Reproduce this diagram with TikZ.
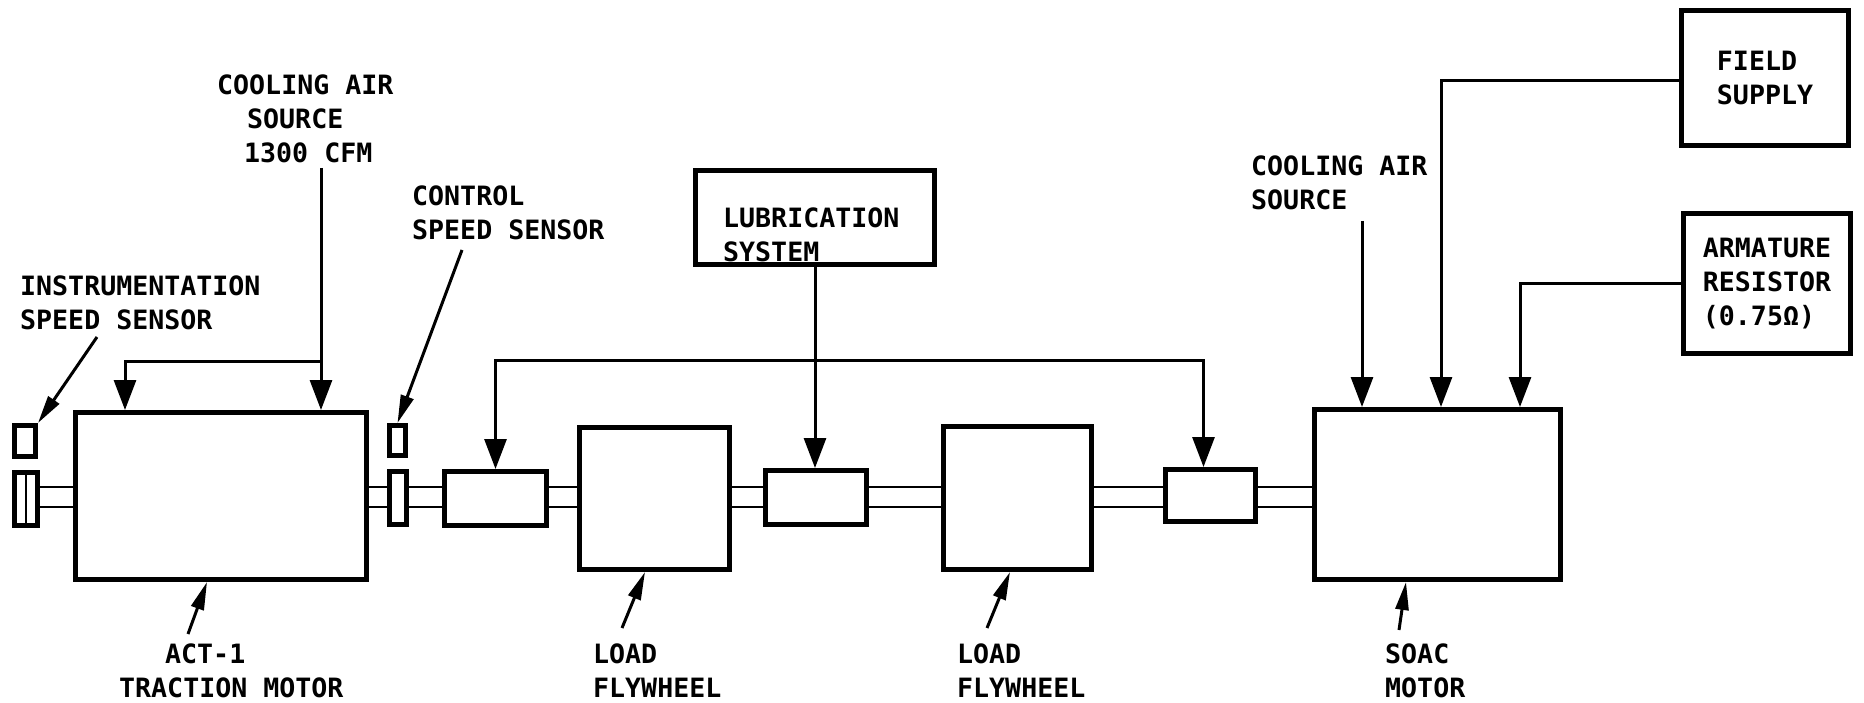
\documentclass[tikz,border=0pt]{standalone}
\usepackage{fontspec}
\newfontfamily\dmono{DejaVu Sans Mono}
\usetikzlibrary{arrows.meta}
\newcommand\lblfont{\dmono\bfseries\fontsize{26.6pt}{34pt}\selectfont}
\begin{document}
\begin{tikzpicture}[x=1pt,y=-1pt,
  box/.style={draw, line width=5pt, inner sep=0pt, align=left, font=\lblfont},
  lbl/.style={anchor=north west, inner sep=0pt, align=left, font=\lblfont},
  conn/.style={line width=3pt},
  arrb/.style={-{Triangle[width=22pt,length=30pt]}},
  arrbb/.style={{Triangle[width=22pt,length=30pt]}-{Triangle[width=22pt,length=30pt]}},
  lead/.style={line width=3pt, -{Triangle[width=13pt,length=28pt]}},
  shaft/.style={line width=2pt}]
\useasboundingbox (0,0) rectangle (1864,703);

% boxes
\node[box, minimum width=21, minimum height=31] (isens) at (25,441) {};
\node[box, minimum width=23, minimum height=53] (icoup) at (26,499) {};
\node[box, minimum width=291, minimum height=167] (motor) at (221,496) {};
\node[box, minimum width=16, minimum height=30] (csens) at (397.5,440.5) {};
\node[box, minimum width=17, minimum height=53] (ccoup) at (398,498) {};
\node[box, minimum width=102, minimum height=54] (boxA) at (495.5,498.5) {};
\node[box, minimum width=150, minimum height=142] (fw1) at (654.5,498.5) {};
\node[box, minimum width=101, minimum height=54] (boxB) at (816,497.5) {};
\node[box, minimum width=148, minimum height=143] (fw2) at (1017.5,498) {};
\node[box, minimum width=90, minimum height=52] (boxC) at (1210.5,495.5) {};
\node[box, minimum width=246, minimum height=170] (soac) at (1437.5,494.5) {};
\node[box, minimum width=239, minimum height=94] (lub) at (815,217.5) {};
\node[box, minimum width=167, minimum height=135] (field) at (1765,78) {FIELD\\SUPPLY};
\node[box, minimum width=167, minimum height=140] (arm) at (1767,283.5) {ARMATURE\\RESISTOR\\(0.75Ω)};

\draw[shaft] (icoup.north) -- (icoup.south);

% shafts
\foreach \a/\b in {icoup/motor, motor/ccoup, ccoup/boxA, boxA/fw1, fw1/boxB, boxB/fw2, fw2/boxC, boxC/soac}{
  \draw[shaft] (\a.east |- 0,487) -- (\b.west |- 0,487);
  \draw[shaft] (\a.east |- 0,507) -- (\b.west |- 0,507);
}

% labels
\node[lbl] (tinstr) at (20,275.6) {INSTRUMENTATION\\SPEED SENSOR};
\node[lbl] (tcool1) at (217,74.6) {COOLING AIR\\\hspace*{30pt}SOURCE\\\hspace*{27pt}1300 CFM};
\node[lbl] (tctrl) at (412,185.6) {CONTROL\\SPEED SENSOR};
\node[lbl] (tlub) at (723,207.6) {LUBRICATION\\SYSTEM};
\node[lbl] (tcool2) at (1251,155.6) {COOLING AIR\\SOURCE};
\node[lbl] (tmot) at (119,643.6) {\hspace*{46pt}ACT-1\\TRACTION MOTOR};
\node[lbl] (tfw1) at (593,643.6) {LOAD\\FLYWHEEL};
\node[lbl] (tfw2) at (957,643.6) {LOAD\\FLYWHEEL};
\node[lbl] (tsoac) at (1385,643.6) {SOAC\\MOTOR};

% cooling air, left motor
\coordinate (ca1) at (321,168);
\coordinate (j1) at (321,362);
\draw[conn,arrb] (ca1) -- (motor.north -| ca1);
\draw[conn,arrb] (j1) -| (motor.north -| 125,0);

% lubrication lines
\coordinate (bus) at (0,361);
\coordinate (cin) at ([xshift=-7pt]boxC.north);
\draw[conn,arrbb] (boxA.north) -- (boxA.north |- bus) -- (cin |- bus) -- (cin);
\draw[conn,arrb] (lub.south) -- (lub.south |- boxB.north);

% SOAC motor inputs
\coordinate (ca2) at (1362,221);
\coordinate (fin) at ([yshift=-3pt]field.west);
\draw[conn,arrb] (ca2) -- (soac.north -| ca2);
\draw[conn,arrb] (fin) -| (soac.north -| 1441,0);
\draw[conn,arrb] (arm.west) -| (soac.north -| 1520,0);

% leaders
\coordinate (li) at (97,337);
\draw[lead] (li) -- (isens.north east);
\coordinate (lc) at (462,250);
\draw[lead] (lc) -- (csens.north);
\coordinate (lm) at (188,634);
\draw[lead] (lm) -- (motor.south -| 207,0);
\coordinate (lf1) at (622,628);
\draw[lead] (lf1) -- (fw1.south -| 645,0);
\coordinate (lf2) at (987,628);
\draw[lead] (lf2) -- (fw2.south -| 1010,0);
\coordinate (ls) at (1399,630);
\draw[lead] (ls) -- (soac.south -| 1406,0);
\end{tikzpicture}
\end{document}
